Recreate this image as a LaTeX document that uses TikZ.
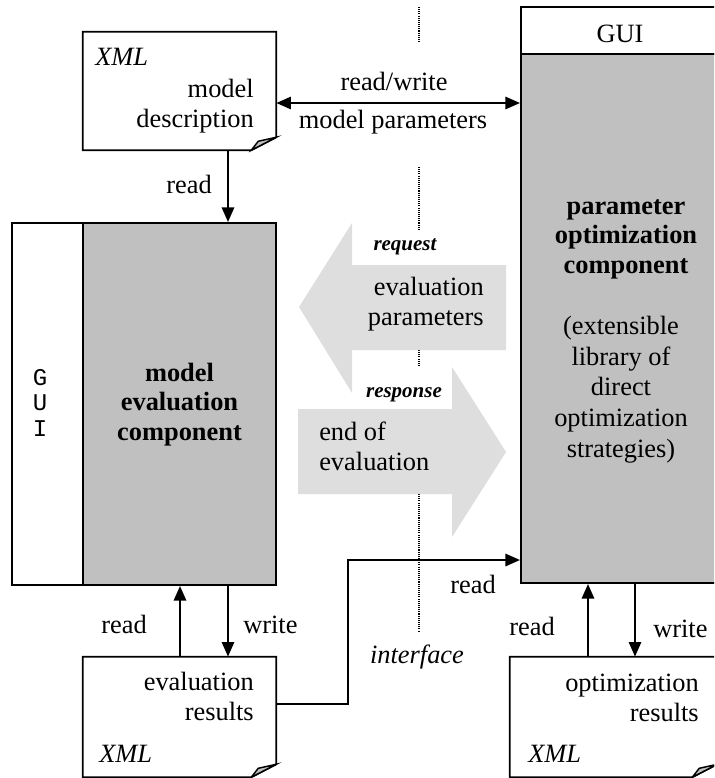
\documentclass[tikz,border=0pt]{standalone}
\usepackage{fontspec}
\setmainfont{Liberation Serif}
\setmonofont{Liberation Mono}
\usetikzlibrary{arrows.meta,calc}
\definecolor{boxgrey}{HTML}{C0C0C0}
\definecolor{arrgrey}{HTML}{DEDEDE}
\newcommand{\pxl}[1]{#1*0.75pt}
\begin{document}
\begin{tikzpicture}[x=0.75pt,y=-0.75pt,
  txt/.style={inner sep=0pt, font=\fontsize{19.8pt}{22.4pt}\selectfont},
  tag/.style={inner sep=0pt, font=\fontsize{15.75pt}{18pt}\selectfont\bfseries\itshape},
  mono/.style={inner sep=0pt, font=\fontsize{18pt}{19.1pt}\selectfont\ttfamily},
  frame/.style={draw=black, line width=1.3pt, inner sep=0pt},
  docarea/.style={inner sep=0pt},
  conn/.style={line width=2.1pt, -{Triangle[length=11pt,width=9pt]}},
  biconn/.style={line width=2.1pt, {Triangle[length=11pt,width=9pt]}-{Triangle[length=11pt,width=9pt]}},
  bigarrow/.style={fill=arrgrey, draw=none},
  sep/.style={line width=0.8pt, dash pattern=on 0.8pt off 0.8pt},
]
\useasboundingbox (0,0) rectangle (714,778);
\clip (0,0) rectangle (714,778);

% dotted interface line
\draw[sep] (419,7) -- (419,43);
\draw[sep] (419,167) -- (419,230);
\draw[sep] (419,350) -- (419,367);
\draw[sep] (419,494) -- (419,632);

% document areas (for anchors)
\node[docarea, minimum width=\pxl{193}, minimum height=\pxl{118}] (md) at (179.5,91) {};
\node[docarea, minimum width=\pxl{193}, minimum height=\pxl{120}] (er) at (179.5,717) {};
\node[docarea, minimum width=\pxl{207}, minimum height=\pxl{120}] (or) at (613.5,717) {};

% document outlines with folded corner
\foreach \d in {md,er,or}{
  \draw[line width=1.3pt, fill=white] (\d.north west) -- (\d.north east) -- ($(\d.south east)+(0,-13)$)
     -- ($(\d.south east)+(-25,0)$) -- (\d.south west) -- cycle;
  \draw[line width=1.1pt, fill=boxgrey] ($(\d.south east)+(-25,0)$) -- ($(\d.south east)+(-18,-9)$)
     -- ($(\d.south east)+(0,-13)$) -- cycle;
}

% model evaluation component
\node[frame, fill=white, minimum width=\pxl{71}, minimum height=\pxl{362}] (meg) at (47.5,404) {};
\node[frame, fill=boxgrey, minimum width=\pxl{193}, minimum height=\pxl{362}] (mec) at (179.5,404) {};

% parameter optimization component
\node[frame, fill=white, minimum width=\pxl{209}, minimum height=\pxl{47}] (pog) at (625.5,30.5) {};
\node[frame, fill=boxgrey, minimum width=\pxl{209}, minimum height=\pxl{529}] (poc) at (625.5,318.5) {};

% big grey arrows
\fill[bigarrow] (299,307) -- (352,223) -- (352,265) -- (506,265) -- (506,350) -- (352,350) -- (352,393) -- cycle;
\fill[bigarrow] (298,409) -- (452,409) -- (452,367) -- (506,452) -- (452,537) -- (452,494) -- (298,494) -- cycle;

% helper coordinates
\coordinate (r103) at (0,103);
\coordinate (c180) at (180,0);
\coordinate (c228) at (228,0);
\coordinate (c588) at (588,0);
\coordinate (c635) at (635,0);
\coordinate (r704) at (0,704);
\coordinate (r560) at (0,560);
\coordinate (bendA) at (348,704);
\coordinate (bendB) at (348,560);

% connectors
\draw[biconn] (md.east |- r103) -- (poc.west |- r103);
\draw[conn] (md.south -| c228) -- (mec.north -| c228);
\draw[conn] (er.north -| c180) -- (mec.south -| c180);
\draw[conn] (mec.south -| c228) -- (er.north -| c228);
\draw[conn] (er.east |- r704) -- (bendA) -- (bendB) -- (poc.west |- r560);
\draw[conn] (or.north -| c588) -- (poc.south -| c588);
\draw[conn] (poc.south -| c635) -- (or.north -| c635);

% texts (multi-line nodes: base = baseline of the last line)
\node[txt, anchor=base west, font=\fontsize{19.8pt}{22.4pt}\selectfont\itshape] (mdx) at (95,65) {XML};
\node[txt, anchor=base east, align=right] (mdt) at (254,127) {model\\description};
\node[txt, anchor=base] (rw) at (394,90) {read/write};
\node[txt, anchor=base] (mp) at (393,128) {model parameters};
\node[txt, anchor=base east] (rd1) at (212,193) {read};

\node[mono, anchor=base, align=center] (gl) at (40,436) {G\\U\\I};
\node[txt, anchor=base, align=center, font=\fontsize{19.8pt}{22.1pt}\selectfont\bfseries] (mect) at (179.5,440) {model\\evaluation\\component};

\node[txt, anchor=base] (gr) at (620,42) {GUI};
\node[txt, anchor=base, align=center, font=\fontsize{19.8pt}{22pt}\selectfont\bfseries] (poct) at (626,273) {parameter\\optimization\\component};
\node[txt, anchor=base, align=center, font=\fontsize{19.8pt}{22.9pt}\selectfont] (pocs) at (621,457) {(extensible\\library of\\direct\\optimization\\strategies)};

\node[tag, anchor=base] (req) at (405,250) {request};
\node[txt, anchor=base east, align=right] (evp) at (484,325) {evaluation\\parameters};
\node[tag, anchor=base] (resp) at (404,397) {response};
\node[txt, anchor=base west, align=left] (eoe) at (319,470) {end of\\evaluation};

\node[txt, anchor=base west] (rd2) at (450,593) {read};
\node[txt, anchor=base east] (rd3) at (147,633) {read};
\node[txt, anchor=base west] (wr1) at (243,633) {write};
\node[txt, anchor=base east] (rd4) at (555,635) {read};
\node[txt, anchor=base west] (wr2) at (653,637) {write};
\node[txt, anchor=base, font=\fontsize{19.8pt}{22.4pt}\selectfont\itshape] (intf) at (417,663) {interface};

\node[txt, anchor=base east, align=right] (ert) at (254,720) {evaluation\\results};
\node[txt, anchor=base west, font=\fontsize{19.8pt}{22.4pt}\selectfont\itshape] (erx) at (99,762) {XML};
\node[txt, anchor=base east, align=right] (ort) at (699,721) {optimization\\results};
\node[txt, anchor=base west, font=\fontsize{19.8pt}{22.4pt}\selectfont\itshape] (orx) at (528,762) {XML};
\end{tikzpicture}
\end{document}
